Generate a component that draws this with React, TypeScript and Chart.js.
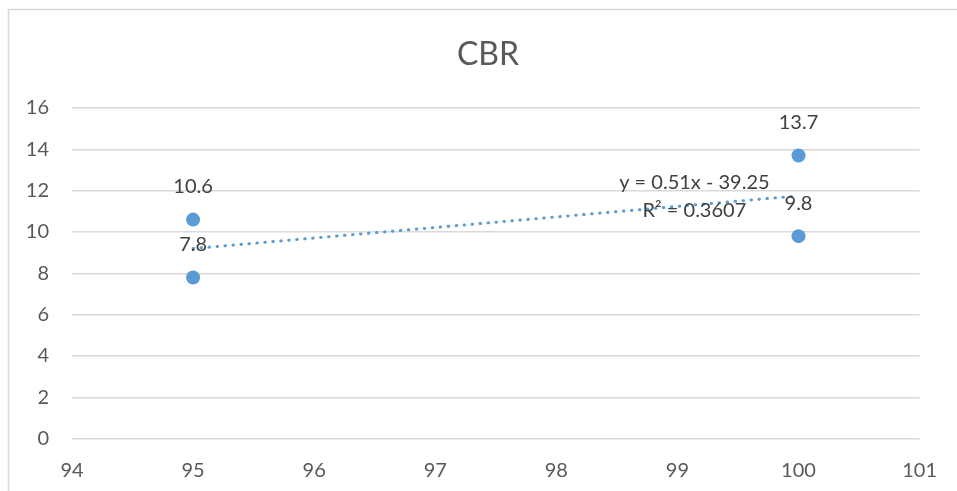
import React, { useEffect, useRef } from "react";
import { Chart, registerables } from "chart.js";

Chart.register(...registerables);

const xValues = [95, 95, 100, 100];
const yValues = [10.6, 7.8, 13.7, 9.8];
const pointLabels = ["10.6", "7.8", "13.7", "9.8"];
const trendX = [95, 100];
const trendSlope = 0.51;
const trendIntercept = -39.25;
const yTicks = [0, 2, 4, 6, 8, 10, 12, 14, 16];
const xTicks = [94, 95, 96, 97, 98, 99, 100, 101];
const chartTitle = "CBR";
const equationLines = ["y = 0.51x - 39.25", "R² = 0.3607"];
const equationAnchorX = 99.14;
const equationAnchorY = [12.4, 11.03];

const FONT = "Lato, 'Open Sans', sans-serif";
const BLUE = "#5b9bd5";

export default function App() {
  const ref = useRef<HTMLCanvasElement | null>(null);
  useEffect(() => {
    document.body.style.margin = "0";
    document.body.style.overflow = "hidden";
    const canvas = ref.current!;
    const overlay = {
      id: "overlay",
      afterDatasetsDraw(chart: any) {
        const ctx = chart.ctx;
        ctx.save();
        // frame
        ctx.strokeStyle = "#d9d9d9";
        ctx.lineWidth = 1.5;
        ctx.beginPath();
        ctx.moveTo(8.5, 600);
        ctx.lineTo(8.5, 9.5);
        ctx.lineTo(1200, 9.5);
        ctx.stroke();
        // title
        ctx.fillStyle = "#595959";
        ctx.font = `32px ${FONT}`;
        ctx.textAlign = "center";
        ctx.textBaseline = "middle";
        ctx.fillText(chartTitle, 488, 55);
        // data labels
        const meta = chart.getDatasetMeta(0);
        ctx.font = `20px ${FONT}`;
        ctx.fillStyle = "#404040";
        meta.data.forEach((pt: any, i: number) => {
          ctx.fillText(pointLabels[i], pt.x, pt.y - 33);
        });
        // equation
        const xs = chart.scales.x;
        const ys = chart.scales.y;
        equationLines.forEach((t, i) => {
          ctx.fillText(t, xs.getPixelForValue(equationAnchorX), ys.getPixelForValue(equationAnchorY[i]));
        });
        ctx.restore();
      },
    };
    const chart = new Chart(canvas, {
      type: "scatter",
      data: {
        datasets: [
          {
            label: "CBR",
            data: xValues.map((x, i) => ({ x, y: yValues[i] })),
            backgroundColor: BLUE,
            borderColor: BLUE,
            pointRadius: 7,
            pointHoverRadius: 7,
            borderWidth: 0,
            order: 1,
          },
          {
            label: "trend",
            type: "line",
            data: trendX.map((x) => ({ x, y: trendSlope * x + trendIntercept })),
            borderColor: BLUE,
            borderWidth: 3,
            borderDash: [0.5, 7.5],
            borderCapStyle: "round",
            pointRadius: 0,
            fill: false,
            showLine: true,
            order: 0,
          } as any,
        ],
      },
      options: {
        animation: false,
        responsive: false,
        maintainAspectRatio: false,
        layout: { padding: { left: 0, right: 36, top: 108, bottom: 0 } },
        plugins: {
          legend: { display: false },
          title: { display: false },
          tooltip: { enabled: false },
        },
        scales: {
          x: {
            type: "linear",
            min: 94,
            max: 101,
            afterBuildTicks: (s: any) => {
              s.ticks = xTicks.map((v) => ({ value: v }));
            },
            afterFit: (s: any) => {
              s.height = 52.3;
            },
            grid: { display: false, drawTicks: false },
            border: { display: false },
            ticks: { padding: 20, color: "#595959", font: { family: FONT, size: 20 } },
          },
          y: {
            type: "linear",
            min: 0,
            max: 16,
            afterBuildTicks: (s: any) => {
              s.ticks = yTicks.map((v) => ({ value: v }));
            },
            afterFit: (s: any) => {
              s.width = 72;
            },
            grid: { color: "#d9d9d9", lineWidth: 1.5, drawTicks: false },
            border: { display: false },
            ticks: { padding: 23, color: "#595959", font: { family: FONT, size: 20 } },
          },
        },
      },
      plugins: [overlay],
    });
    return () => chart.destroy();
  }, []);
  return (
    <div style={{ width: 957, height: 491, background: "#fff" }}>
      <canvas ref={ref} width={957} height={491} style={{ display: "block" }} />
    </div>
  );
}
